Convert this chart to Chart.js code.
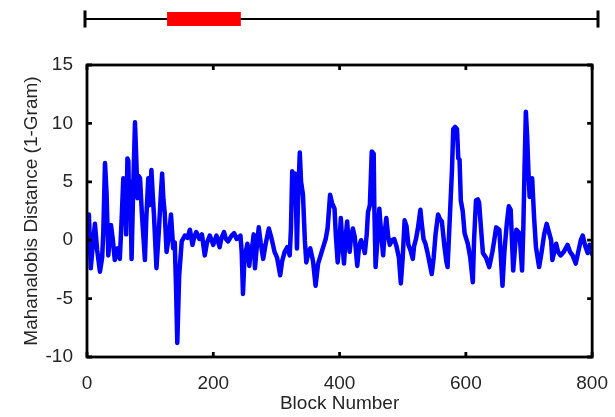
<!DOCTYPE html>
<html>
<head>
<meta charset="utf-8">
<script src="https://cdn.jsdelivr.net/npm/chart.js@4"></script>
<style>
  html, body { margin: 0; padding: 0; background: #fff; }
  #wrap { position: relative; width: 615px; height: 417px; }
  canvas { position: absolute; left: 0; top: 0; }
</style>
</head>
<body>
<div id="wrap">
  <canvas id="main" width="615" height="417"></canvas>
  <canvas id="span" width="615" height="40"></canvas>
</div>
<script>
// block positions and the matching distance values
const blockNumbers = [
  0, 3, 6, 9, 12.6, 16, 20.5, 24, 25.8, 28.5, 31, 33.7, 38, 41, 44, 48.5, 52, 55, 57.5, 59,
  60.5, 62, 64, 65.5, 67, 68.5, 70.6, 73, 76, 78, 80, 82, 84, 87, 91.7, 94, 97, 99, 102, 104,
  106, 110, 114, 117, 119, 121, 123, 126, 130, 133, 136.5, 139, 141, 143, 146, 150, 155, 159, 163, 167,
  170, 173, 178, 182, 186.5, 190, 194.5, 200, 205, 210, 213, 217, 220, 223.5, 229, 233, 237, 243, 245, 247,
  249, 251.5, 254, 257, 260, 262, 264, 266, 269, 272, 275, 279, 283, 288, 292, 297, 301, 306, 309, 313,
  317, 321, 323, 325, 328, 330, 332.5, 334, 337, 339, 342, 345, 347.3, 350, 353.6, 358, 362, 366, 370, 374,
  378, 381, 385, 388, 392, 394, 397, 400, 402, 404, 407, 410, 412, 414, 416, 418, 421, 424, 428, 431,
  434, 437, 440, 443, 445, 448, 451, 454, 455, 457, 460, 463, 466, 469, 471, 474, 477, 479.5, 483, 486.5,
  490, 494, 497, 500, 503, 506, 509, 512, 516, 518, 521, 524, 528, 530, 533, 536, 539, 542, 546, 549,
  552, 556, 559, 562, 566, 569, 571, 573, 576, 578, 580, 583, 586, 588, 590, 592, 595, 598, 603, 607,
  611, 613, 616, 619, 621, 624, 627, 632, 637, 642, 645, 648, 653, 655, 658, 661, 665, 668, 671, 673,
  675, 678, 680, 685, 687, 689, 691, 693, 695, 697, 699, 701, 703, 705, 708, 711, 716, 720, 724, 728,
  732, 735, 737, 740, 743, 746, 750, 755, 761, 765, 769, 774, 778, 782, 785, 789, 793, 796, 800
];
const distances = [
  -0.5, 2.2, -2.4, -0.5, 1.4, -0.8, -2.7, -1.5, 0.7, 6.6, 4, -1.3, 1.3, 0, -1.7, -0.7, -1.6, 2, 5.3, 1.5,
  4.5, 0.5, 7.0, 6.8, 2, 5, -1.6, 4, 10.1, 7, 3.6, 5.5, 5.3, 2.2, -1.7, 2, 5.3, 3, 6.0, 4,
  2.2, -2.4, 1, 4, 5.7, 3.5, 2.4, -1.0, 0.5, 2.2, -0.7, -0.2, -4, -8.8, -3, -0.1, 0.4, 0.2, 0.9, -0.4,
  0.3, 0.7, 0.1, 0.5, -1.3, -0.2, 0.4, -0.4, 0.4, -0.6, 0.2, 0.7, 0.1, -0.1, 0.4, 0.6, 0.1, 0.4, -1, -4.6,
  -2, -1.0, -0.3, -2.2, -0.6, -0.4, 0.5, -2.4, -0.5, 1.1, -0.2, -1.6, -0.3, 1.0, 0.2, -1.0, -1.5, -3.0, -1.8, -1.0,
  -0.6, -1.3, 1, 5.9, 5.2, 5.7, -0.7, 3, 7.5, 5, 3.9, 0, -1.9, -1.2, -0.7, -1.8, -3.9, -2, -1.3, -0.6,
  0.1, 1, 3.9, 3.2, 2.7, 0.5, -1.9, 0, 1.9, 0, -2.0, 0.5, 1.6, 0, -1.0, 0.2, 1.0, 0.3, -2.2, -0.5,
  0, -0.5, -1.1, 0.5, 2.4, 3, 7.6, 7.4, 3, -2.3, 0, 2.7, 0.5, -1.3, 0.4, 1.9, 0.3, -0.4, 0, 0.1,
  -0.5, -1.5, -3.7, -1.5, 1.7, 1.2, -0.4, -0.8, -1.6, -0.5, 0.1, 1, 2.6, 1.5, 0.1, -0.3, -1.0, -1.8, -2.9, -1.5,
  0.5, 2.2, 1.8, 1.6, -0.5, -1.8, -2.3, 0, 3.6, 6, 9.5, 9.7, 9.5, 7, 6.9, 3.4, 2.5, 0.6, -0.3, -1.5,
  -3.6, 0, 3.4, 3.5, 3.2, 1, -1.1, -1.5, -2.3, -1, 0, 1.1, 0.9, -1, -3.9, -1, 1.5, 2.9, 2.6, 0,
  -2.6, -0.5, 0.9, 0.6, -1, -2.6, 1, 6.3, 11, 9, 6.0, 3.7, 4.5, 5.3, 2, -0.6, -2.3, -1, 0.5, 1.4,
  0.6, 0, -1.7, -1, -0.3, -1, -1.3, -1, -0.4, -1, -1.3, -2.0, -1, 0, 0.4, -0.5, -1.1, -0.4, -1.2
];

const xTicks = [0, 200, 400, 600, 800];
const yTicks = [-10, -5, 0, 5, 10, 15];

// the span bar over the plot: full range and the highlighted block window
const spanRange = [0, 800];
const highlightRange = [128, 243];

const TEXT = '#262626';
const FONT = { family: '"Liberation Sans", Arial, sans-serif', size: 19 };

const boxFrame = {
  id: 'boxFrame',
  afterDraw(chart) {
    const { ctx, chartArea: a } = chart;
    const x = chart.scales.x;
    const y = chart.scales.y;
    const len = 5;
    ctx.save();
    ctx.strokeStyle = '#000';
    ctx.lineWidth = 2.8;
    ctx.strokeRect(a.left, a.top, a.right - a.left, a.bottom - a.top);
    ctx.beginPath();
    xTicks.forEach((v) => {
      const px = x.getPixelForValue(v);
      ctx.moveTo(px, a.bottom); ctx.lineTo(px, a.bottom - len);
      ctx.moveTo(px, a.top); ctx.lineTo(px, a.top + len);
    });
    yTicks.forEach((v) => {
      const py = y.getPixelForValue(v);
      ctx.moveTo(a.left, py); ctx.lineTo(a.left + len, py);
      ctx.moveTo(a.right, py); ctx.lineTo(a.right - len, py);
    });
    ctx.stroke();
    ctx.restore();
  },
};

new Chart(document.getElementById('main'), {
  type: 'scatter',
  data: {
    datasets: [{
      data: blockNumbers.map((b, i) => ({ x: b, y: distances[i] })),
      showLine: true,
      borderColor: '#0000ff',
      borderWidth: 4.5,
      borderJoinStyle: 'round',
      borderCapStyle: 'round',
      pointRadius: 0,
      tension: 0,
    }],
  },
  options: {
    responsive: false,
    animation: false,
    layout: { padding: { top: 65, right: 22, left: 0, bottom: 0 } },
    plugins: { legend: { display: false }, tooltip: { enabled: false } },
    scales: {
      x: {
        type: 'linear',
        min: 0,
        max: 800,
        afterBuildTicks: (s) => { s.ticks = xTicks.map((v) => ({ value: v })); },
        afterFit: (s) => { s.height = 60; },
        grid: { display: false },
        border: { display: false },
        ticks: { color: TEXT, font: FONT, padding: 7, maxRotation: 0 },
        title: { display: true, text: 'Block Number', color: TEXT, font: FONT, padding: { top: 0, bottom: 2 } },
      },
      y: {
        min: -10,
        max: 15,
        afterBuildTicks: (s) => { s.ticks = yTicks.map((v) => ({ value: v })); },
        afterFit: (s) => { s.width = 87; },
        grid: { display: false },
        border: { display: false },
        ticks: { color: TEXT, font: FONT, padding: 6 },
        title: { display: true, text: 'Mahanalobis Distance (1-Gram)', color: TEXT, font: FONT, padding: { top: 20, bottom: 0 } },
      },
    },
  },
  plugins: [boxFrame],
});

const capHalf = 0.45;
new Chart(document.getElementById('span'), {
  type: 'scatter',
  data: {
    datasets: [
      { data: [{ x: highlightRange[0], y: 0 }, { x: highlightRange[1], y: 0 }], borderColor: '#ff0000', borderWidth: 14, borderCapStyle: 'butt' },
      { data: [{ x: spanRange[0], y: 0 }, { x: spanRange[1], y: 0 }], borderColor: '#000', borderWidth: 2 },
      { data: [{ x: spanRange[0], y: -capHalf }, { x: spanRange[0], y: capHalf }], borderColor: '#000', borderWidth: 3 },
      { data: [{ x: spanRange[1], y: -capHalf }, { x: spanRange[1], y: capHalf }], borderColor: '#000', borderWidth: 3 },
    ].map((d) => ({ ...d, showLine: true, pointRadius: 0, clip: false })),
  },
  options: {
    responsive: false,
    animation: false,
    layout: { padding: { left: 85, right: 17, top: 0, bottom: 2 } },
    plugins: { legend: { display: false }, tooltip: { enabled: false } },
    scales: {
      x: { type: 'linear', min: 0, max: 800, display: false },
      y: { min: -1, max: 1, display: false },
    },
  },
});
</script>
</body>
</html>
